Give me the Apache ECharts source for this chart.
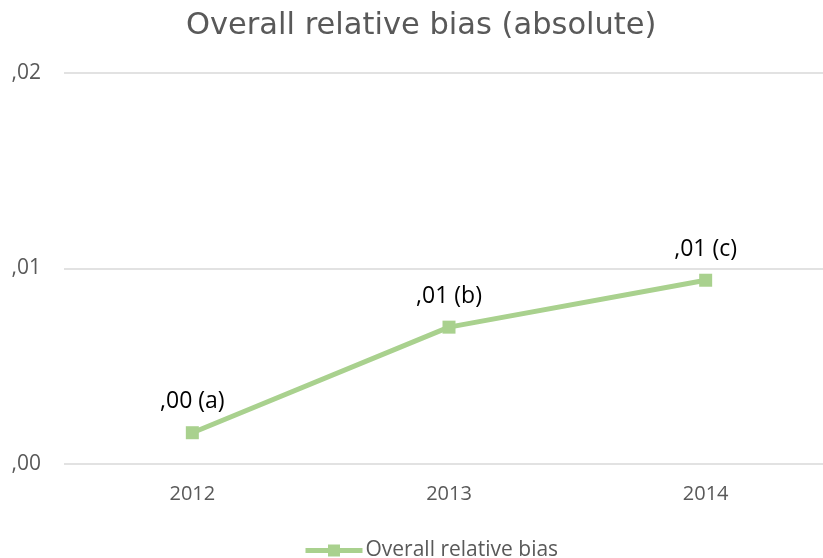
<!DOCTYPE html>
<html>
<head>
<meta charset="utf-8">
<script src="https://cdn.jsdelivr.net/npm/echarts@6/dist/echarts.min.js"></script>
<style>
html,body{margin:0;padding:0;background:#fff;}
#chart{width:823px;height:558px;}
</style>
</head>
<body>
<div id="chart"></div>
<script>
// Survey years on the x axis
const years = ['2012', '2013', '2014'];
// Overall relative bias (absolute) per year
const biasValues = [0.0016, 0.0070, 0.0094];
// Letter tags appended to each value label
const labelTags = ['(a)', '(b)', '(c)'];
const seriesName = 'Overall relative bias';

function fmtComma(v) {
  // Two decimals, comma decimal separator, no leading zero
  return v.toFixed(2).replace(/^0/, '').replace('.', ',');
}

const green = '#a9d18e';

const chart = echarts.init(document.getElementById('chart'));
chart.setOption({
  animation: false,
  backgroundColor: '#ffffff',
  title: {
    text: 'Overall relative bias (absolute)',
    left: 181,
    top: 6,
    textStyle: { fontFamily: 'DejaVu Sans', fontSize: 30.5, fontWeight: 'normal', color: '#595959' }
  },
  grid: { left: 64, top: 73, width: 770, height: 391, containLabel: false, outerBoundsMode: 'none' },
  xAxis: {
    type: 'category',
    data: years,
    axisLine: { show: false },
    axisTick: { show: false },
    axisLabel: { color: '#595959', fontFamily: 'Open Sans', fontSize: 20, margin: 20 }
  },
  yAxis: {
    type: 'value',
    min: 0,
    max: 0.02,
    interval: 0.01,
    axisLine: { show: false },
    axisTick: { show: false },
    splitLine: { lineStyle: { color: '#d9d9d9', width: 1.5 } },
    axisLabel: {
      color: '#595959', fontFamily: 'Open Sans', fontSize: 21, margin: 23,
      formatter: v => fmtComma(v)
    }
  },
  legend: {
    top: 535,
    left: 298,
    itemWidth: 57,
    itemHeight: 15,
    itemGap: 4,
    lineStyle: { width: 5, color: green },
    itemStyle: { color: green },
    textStyle: { color: '#595959', fontFamily: 'Open Sans', fontSize: 21, padding: [0, 0, 0, -2] },
    data: [seriesName]
  },
  series: [{
    name: seriesName,
    type: 'line',
    data: biasValues,
    symbol: 'rect',
    symbolSize: 13,
    lineStyle: { color: green, width: 5 },
    itemStyle: { color: green },
    label: {
      show: true,
      position: 'top',
      distance: 13,
      color: '#000000',
      fontFamily: 'Open Sans',
      fontSize: 23,
      formatter: p => fmtComma(p.value) + ' ' + labelTags[p.dataIndex]
    }
  }]
});
</script>
</body>
</html>
